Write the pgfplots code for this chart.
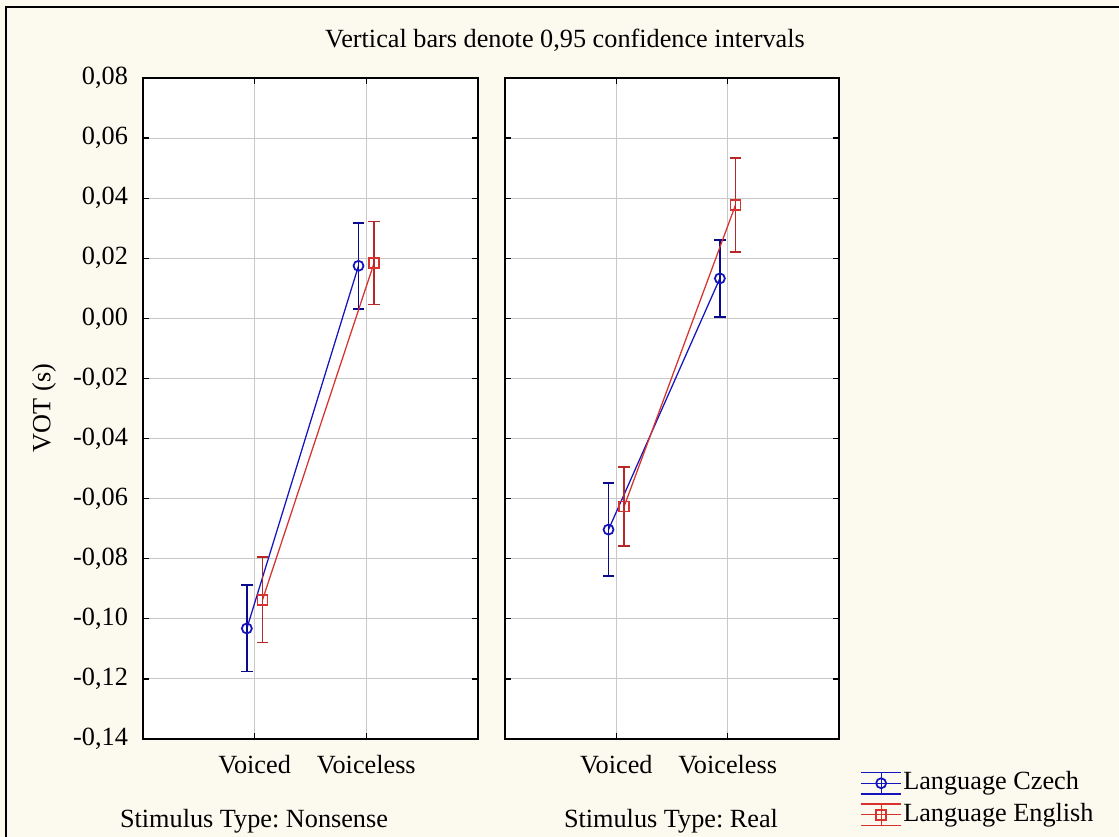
\documentclass[border=0pt]{standalone}
\usepackage{pgfplots}
\usepackage{pgfplotstable}
\pgfplotsset{compat=1.18}
\usepackage{fontspec}
\setmainfont{Liberation Serif}
\frenchspacing

\definecolor{paper}{RGB}{252,249,239}
\definecolor{czech}{RGB}{20,20,190}
\definecolor{czechbar}{RGB}{10,10,140}
\definecolor{english}{RGB}{215,50,45}
\definecolor{englishbar}{RGB}{185,40,40}
\definecolor{gridgray}{RGB}{200,200,200}
\newcommand{\lbl}{\fontsize{10.5pt}{12pt}\selectfont}

% Mean VOT (s) and half-width of the 0.95 confidence interval
\pgfplotstableread{
x    y       e
0.93 -0.1032 0.0144
1.93  0.0175 0.0143
}\czechNonsense
\pgfplotstableread{
x    y       e
1.07 -0.0937 0.0142
2.07  0.0185 0.0138
}\englishNonsense
\pgfplotstableread{
x    y       e
0.93 -0.0703 0.0155
1.93  0.0133 0.0128
}\czechReal
\pgfplotstableread{
x    y       e
1.07 -0.0626 0.0131
2.07  0.0377 0.0156
}\englishReal

\pgfplotsset{
  panel/.style={
    scale only axis, height=264.4pt,
    xmin=0, xmax=3, ymin=-0.14, ymax=0.08,
    xtick={1,2}, xticklabels={Voiced,Voiceless},
    ytick={-0.14,-0.12,-0.1,-0.08,-0.06,-0.04,-0.02,0,0.02,0.04,0.06,0.08},
    grid=major, major grid style={gridgray, line width=0.4pt},
    axis line style={line width=0.7pt},
    tick align=inside, major tick length=2.4pt,
    tick style={black, line width=0.5pt},
    axis background/.style={fill=white},
    tick label style={font=\lbl},
    xticklabel style={anchor=base, yshift=-13.6pt},
    yticklabel style={xshift=-2.5pt},
    /pgf/number format/.cd, fixed, fixed zerofill, precision=2, use comma, assume math mode=true,
  },
  czechstyle/.style={czech, line width=0.5pt, mark=o, mark size=2pt,
    mark options={solid, line width=0.7pt},
    error bars/.cd, y dir=both, y explicit,
    error bar style={czechbar, line width=0.6pt},
    error mark options={rotate=90, czechbar, line width=0.6pt, mark size=2.3pt}},
  englishstyle/.style={english, line width=0.5pt, mark=square, mark size=2pt,
    mark options={solid, line width=0.6pt},
    error bars/.cd, y dir=both, y explicit,
    error bar style={englishbar, line width=0.6pt},
    error mark options={rotate=90, englishbar, line width=0.6pt, mark size=2.3pt}},
}

\begin{document}
\begin{tikzpicture}
  % window background and frame
  \fill[paper] (0,0) rectangle (447.6pt,-334.8pt);
  \useasboundingbox (0,0) rectangle (447.6pt,-334.8pt);
  \draw[black, line width=0.8pt] (2.4pt,-334.8pt) -- (2.4pt,-2.8pt) -- (447.6pt,-2.8pt);

  \node[font=\lbl, anchor=base] at (226pt,-18.8pt) {Vertical bars denote 0,95 confidence intervals};
  \node[font=\lbl, rotate=90] at (17.6pt,-163.2pt) {VOT (s)};
  \node[font=\lbl, anchor=base] at (101.6pt,-330.8pt) {Stimulus Type: Nonsense};
  \node[font=\lbl, anchor=base] at (268.4pt,-330.8pt) {Stimulus Type: Real};

  % left panel: nonsense stimuli
  \begin{axis}[panel, width=134pt, at={(57.2pt,-295.6pt)}, anchor=south west]
    \addplot[czechstyle] table[x=x, y=y, y error=e] \czechNonsense;
    \addplot[englishstyle] table[x=x, y=y, y error=e] \englishNonsense;
  \end{axis}

  % right panel: real words
  \begin{axis}[panel, width=133.6pt, at={(202pt,-295.6pt)}, anchor=south west,
    yticklabels={},
    legend style={at={(axis description cs:1.063,-0.045)}, anchor=north west,
      draw=none, fill=none, inner sep=0pt, row sep=1.4pt,
      font=\lbl, nodes={inner sep=0.6pt, text height=7.5pt, text depth=2.5pt}},
    legend cell align=left,
    legend image code/.code={
      \draw[#1, mark=none] (0pt,0pt) -- (16pt,0pt);
      \draw[#1, mark=none] (0pt,4.3pt) -- (16pt,4.3pt);
      \draw[#1, mark=none] (0pt,-4.3pt) -- (16pt,-4.3pt);
      \draw[#1, mark=none] (8pt,-4.3pt) -- (8pt,4.3pt);
      \draw[#1] plot coordinates {(8pt,0pt)};
    }]
    \addplot[czechstyle] table[x=x, y=y, y error=e] \czechReal;
    \addlegendentry{Language Czech}
    \addplot[englishstyle] table[x=x, y=y, y error=e] \englishReal;
    \addlegendentry{Language English}
  \end{axis}
\end{tikzpicture}
\end{document}
